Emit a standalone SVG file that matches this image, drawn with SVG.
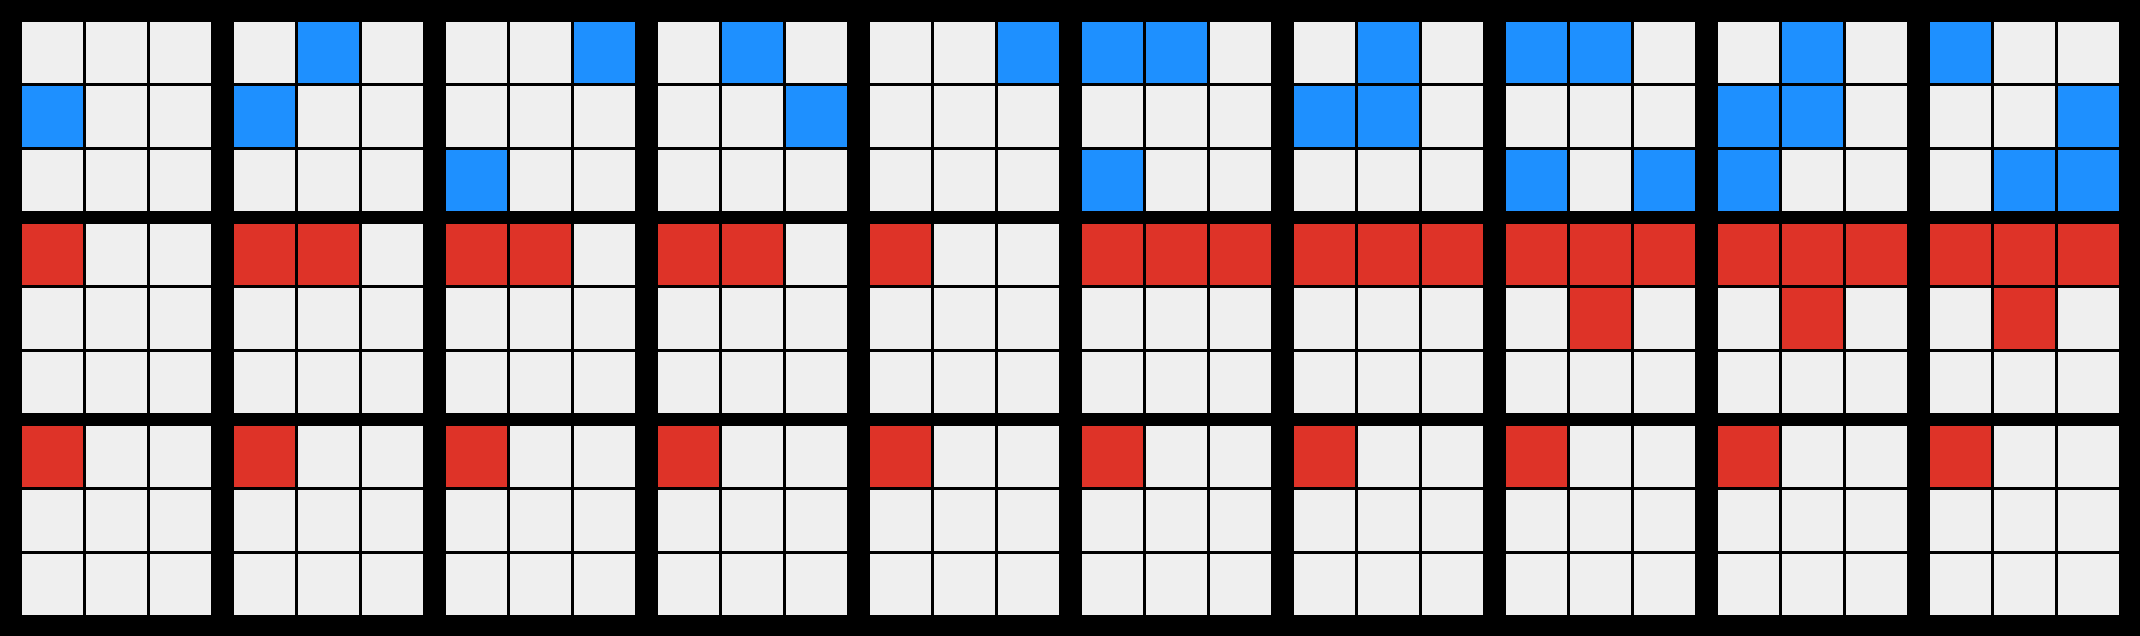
<svg xmlns="http://www.w3.org/2000/svg" xmlns:xlink="http://www.w3.org/1999/xlink" width="2140" height="636" viewBox="0 0 2140 636">
<style>
.e{fill:#efefef}
.b{fill:#1e90ff}
.r{fill:#de3328}
</style>
<defs>
<g id="base">
<rect class="e" x="0" y="0" width="61" height="61"/><rect class="e" x="64" y="0" width="61" height="61"/><rect class="e" x="128" y="0" width="61" height="61"/>
<rect class="e" x="0" y="64" width="61" height="61"/><rect class="e" x="64" y="64" width="61" height="61"/><rect class="e" x="128" y="64" width="61" height="61"/>
<rect class="e" x="0" y="128" width="61" height="61"/><rect class="e" x="64" y="128" width="61" height="61"/><rect class="e" x="128" y="128" width="61" height="61"/>
</g>
<rect id="c" width="61" height="61"/>
</defs>
<rect x="0" y="0" width="2140" height="636" fill="#000"/>
<g id="top">
<g id="t1"><use href="#base" x="22" y="22"/><rect class="b" x="22" y="86" width="61" height="61"/></g>
<g id="t2"><use href="#base" x="234" y="22"/><rect class="b" x="298" y="22" width="61" height="61"/><rect class="b" x="234" y="86" width="61" height="61"/></g>
<g id="t3"><use href="#base" x="446" y="22"/><rect class="b" x="574" y="22" width="61" height="61"/><rect class="b" x="446" y="150" width="61" height="61"/></g>
<g id="t4"><use href="#base" x="658" y="22"/><rect class="b" x="722" y="22" width="61" height="61"/><rect class="b" x="786" y="86" width="61" height="61"/></g>
<g id="t5"><use href="#base" x="870" y="22"/><rect class="b" x="998" y="22" width="61" height="61"/></g>
<g id="t6"><use href="#base" x="1082" y="22"/><rect class="b" x="1082" y="22" width="61" height="61"/><rect class="b" x="1146" y="22" width="61" height="61"/><rect class="b" x="1082" y="150" width="61" height="61"/></g>
<g id="t7"><use href="#base" x="1294" y="22"/><rect class="b" x="1358" y="22" width="61" height="61"/><rect class="b" x="1294" y="86" width="61" height="61"/><rect class="b" x="1358" y="86" width="61" height="61"/></g>
<g id="t8"><use href="#base" x="1506" y="22"/><rect class="b" x="1506" y="22" width="61" height="61"/><rect class="b" x="1570" y="22" width="61" height="61"/><rect class="b" x="1506" y="150" width="61" height="61"/><rect class="b" x="1634" y="150" width="61" height="61"/></g>
<g id="t9"><use href="#base" x="1718" y="22"/><rect class="b" x="1782" y="22" width="61" height="61"/><rect class="b" x="1718" y="86" width="61" height="61"/><rect class="b" x="1782" y="86" width="61" height="61"/><rect class="b" x="1718" y="150" width="61" height="61"/></g>
<g id="t10"><use href="#base" x="1930" y="22"/><rect class="b" x="1930" y="22" width="61" height="61"/><rect class="b" x="2058" y="86" width="61" height="61"/><rect class="b" x="1994" y="150" width="61" height="61"/><rect class="b" x="2058" y="150" width="61" height="61"/></g>
</g>
<g id="middle">
<g id="m1"><use href="#base" x="22" y="224"/><rect class="r" x="22" y="224" width="61" height="61"/></g>
<g id="m2"><use href="#base" x="234" y="224"/><rect class="r" x="234" y="224" width="61" height="61"/><rect class="r" x="298" y="224" width="61" height="61"/></g>
<g id="m3"><use href="#base" x="446" y="224"/><rect class="r" x="446" y="224" width="61" height="61"/><rect class="r" x="510" y="224" width="61" height="61"/></g>
<g id="m4"><use href="#base" x="658" y="224"/><rect class="r" x="658" y="224" width="61" height="61"/><rect class="r" x="722" y="224" width="61" height="61"/></g>
<g id="m5"><use href="#base" x="870" y="224"/><rect class="r" x="870" y="224" width="61" height="61"/></g>
<g id="m6"><use href="#base" x="1082" y="224"/><rect class="r" x="1082" y="224" width="61" height="61"/><rect class="r" x="1146" y="224" width="61" height="61"/><rect class="r" x="1210" y="224" width="61" height="61"/></g>
<g id="m7"><use href="#base" x="1294" y="224"/><rect class="r" x="1294" y="224" width="61" height="61"/><rect class="r" x="1358" y="224" width="61" height="61"/><rect class="r" x="1422" y="224" width="61" height="61"/></g>
<g id="m8"><use href="#base" x="1506" y="224"/><rect class="r" x="1506" y="224" width="61" height="61"/><rect class="r" x="1570" y="224" width="61" height="61"/><rect class="r" x="1634" y="224" width="61" height="61"/><rect class="r" x="1570" y="288" width="61" height="61"/></g>
<g id="m9"><use href="#base" x="1718" y="224"/><rect class="r" x="1718" y="224" width="61" height="61"/><rect class="r" x="1782" y="224" width="61" height="61"/><rect class="r" x="1846" y="224" width="61" height="61"/><rect class="r" x="1782" y="288" width="61" height="61"/></g>
<g id="m10"><use href="#base" x="1930" y="224"/><rect class="r" x="1930" y="224" width="61" height="61"/><rect class="r" x="1994" y="224" width="61" height="61"/><rect class="r" x="2058" y="224" width="61" height="61"/><rect class="r" x="1994" y="288" width="61" height="61"/></g>
</g>
<g id="bottom">
<g id="b1"><use href="#base" x="22" y="426"/><rect class="r" x="22" y="426" width="61" height="61"/></g>
<g id="b2"><use href="#base" x="234" y="426"/><rect class="r" x="234" y="426" width="61" height="61"/></g>
<g id="b3"><use href="#base" x="446" y="426"/><rect class="r" x="446" y="426" width="61" height="61"/></g>
<g id="b4"><use href="#base" x="658" y="426"/><rect class="r" x="658" y="426" width="61" height="61"/></g>
<g id="b5"><use href="#base" x="870" y="426"/><rect class="r" x="870" y="426" width="61" height="61"/></g>
<g id="b6"><use href="#base" x="1082" y="426"/><rect class="r" x="1082" y="426" width="61" height="61"/></g>
<g id="b7"><use href="#base" x="1294" y="426"/><rect class="r" x="1294" y="426" width="61" height="61"/></g>
<g id="b8"><use href="#base" x="1506" y="426"/><rect class="r" x="1506" y="426" width="61" height="61"/></g>
<g id="b9"><use href="#base" x="1718" y="426"/><rect class="r" x="1718" y="426" width="61" height="61"/></g>
<g id="b10"><use href="#base" x="1930" y="426"/><rect class="r" x="1930" y="426" width="61" height="61"/></g>
</g>
<g id="connectors"/>
</svg>
